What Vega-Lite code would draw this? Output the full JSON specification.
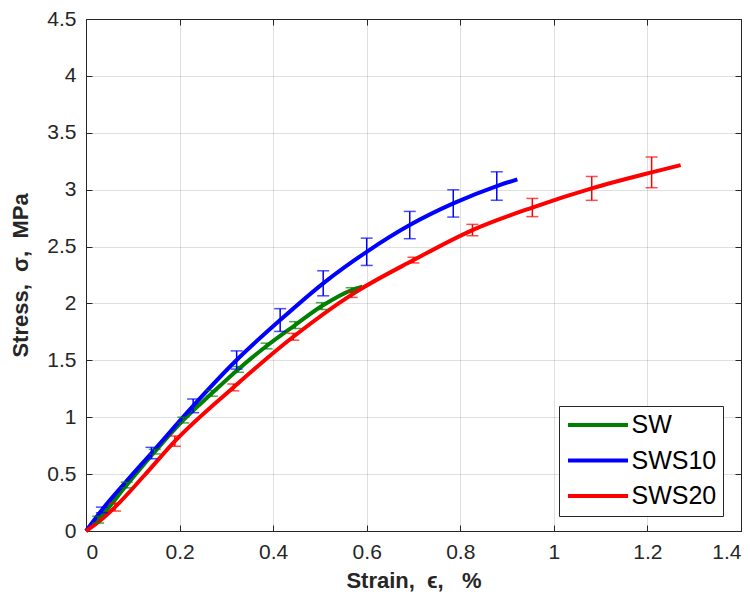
{
  "$schema": "https://vega.github.io/schema/vega-lite/v6.json",
  "width": 655,
  "height": 512,
  "autosize": {"type": "none"},
  "padding": {"left": 86, "top": 19, "right": 9, "bottom": 73},
  "background": "white",
  "datasets": {
    "curves": [
      {"series": "SW", "strain": 0, "stress": 0},
      {"series": "SW", "strain": 0.026, "stress": 0.1},
      {"series": "SW", "strain": 0.087, "stress": 0.404},
      {"series": "SW", "strain": 0.147, "stress": 0.697},
      {"series": "SW", "strain": 0.208, "stress": 0.975},
      {"series": "SW", "strain": 0.269, "stress": 1.21},
      {"series": "SW", "strain": 0.325, "stress": 1.42},
      {"series": "SW", "strain": 0.386, "stress": 1.626},
      {"series": "SW", "strain": 0.447, "stress": 1.81},
      {"series": "SW", "strain": 0.504, "stress": 1.977},
      {"series": "SW", "strain": 0.568, "stress": 2.118},
      {"series": "SW", "strain": 0.591, "stress": 2.147},
      {"series": "SWS10", "strain": 0, "stress": 0},
      {"series": "SWS10", "strain": 0.034, "stress": 0.185},
      {"series": "SWS10", "strain": 0.085, "stress": 0.43},
      {"series": "SWS10", "strain": 0.140, "stress": 0.685},
      {"series": "SWS10", "strain": 0.229, "stress": 1.1},
      {"series": "SWS10", "strain": 0.322, "stress": 1.503},
      {"series": "SWS10", "strain": 0.415, "stress": 1.854},
      {"series": "SWS10", "strain": 0.507, "stress": 2.177},
      {"series": "SWS10", "strain": 0.600, "stress": 2.454},
      {"series": "SWS10", "strain": 0.692, "stress": 2.689},
      {"series": "SWS10", "strain": 0.785, "stress": 2.879},
      {"series": "SWS10", "strain": 0.878, "stress": 3.032},
      {"series": "SWS10", "strain": 0.922, "stress": 3.091},
      {"series": "SWS20", "strain": 0, "stress": 0},
      {"series": "SWS20", "strain": 0.03, "stress": 0.09},
      {"series": "SWS20", "strain": 0.062, "stress": 0.21},
      {"series": "SWS20", "strain": 0.125, "stress": 0.49},
      {"series": "SWS20", "strain": 0.190, "stress": 0.79},
      {"series": "SWS20", "strain": 0.315, "stress": 1.262},
      {"series": "SWS20", "strain": 0.443, "stress": 1.707},
      {"series": "SWS20", "strain": 0.568, "stress": 2.078},
      {"series": "SWS20", "strain": 0.700, "stress": 2.381},
      {"series": "SWS20", "strain": 0.826, "stress": 2.645},
      {"series": "SWS20", "strain": 0.954, "stress": 2.843},
      {"series": "SWS20", "strain": 1.081, "stress": 3.011},
      {"series": "SWS20", "strain": 1.209, "stress": 3.152},
      {"series": "SWS20", "strain": 1.271, "stress": 3.216}
    ],
    "errs": [
      {"series": "SW", "strain": 0.026, "lo": 0.07, "hi": 0.13},
      {"series": "SW", "strain": 0.087, "lo": 0.379, "hi": 0.429},
      {"series": "SW", "strain": 0.147, "lo": 0.677, "hi": 0.717},
      {"series": "SW", "strain": 0.208, "lo": 0.95, "hi": 1.0},
      {"series": "SW", "strain": 0.269, "lo": 1.185, "hi": 1.235},
      {"series": "SW", "strain": 0.325, "lo": 1.395, "hi": 1.445},
      {"series": "SW", "strain": 0.386, "lo": 1.601, "hi": 1.651},
      {"series": "SW", "strain": 0.447, "lo": 1.78, "hi": 1.84},
      {"series": "SW", "strain": 0.504, "lo": 1.947, "hi": 2.007},
      {"series": "SW", "strain": 0.568, "lo": 2.098, "hi": 2.138},
      {"series": "SWS10", "strain": 0.034, "lo": 0.16, "hi": 0.21},
      {"series": "SWS10", "strain": 0.140, "lo": 0.635, "hi": 0.735},
      {"series": "SWS10", "strain": 0.229, "lo": 1.04, "hi": 1.16},
      {"series": "SWS10", "strain": 0.322, "lo": 1.423, "hi": 1.583},
      {"series": "SWS10", "strain": 0.415, "lo": 1.754, "hi": 1.954},
      {"series": "SWS10", "strain": 0.507, "lo": 2.067, "hi": 2.287},
      {"series": "SWS10", "strain": 0.600, "lo": 2.334, "hi": 2.574},
      {"series": "SWS10", "strain": 0.692, "lo": 2.569, "hi": 2.809},
      {"series": "SWS10", "strain": 0.785, "lo": 2.759, "hi": 2.999},
      {"series": "SWS10", "strain": 0.878, "lo": 2.907, "hi": 3.157},
      {"series": "SWS20", "strain": 0.062, "lo": 0.175, "hi": 0.245},
      {"series": "SWS20", "strain": 0.190, "lo": 0.745, "hi": 0.835},
      {"series": "SWS20", "strain": 0.315, "lo": 1.232, "hi": 1.292},
      {"series": "SWS20", "strain": 0.443, "lo": 1.677, "hi": 1.737},
      {"series": "SWS20", "strain": 0.568, "lo": 2.053, "hi": 2.103},
      {"series": "SWS20", "strain": 0.700, "lo": 2.356, "hi": 2.406},
      {"series": "SWS20", "strain": 0.826, "lo": 2.595, "hi": 2.695},
      {"series": "SWS20", "strain": 0.954, "lo": 2.763, "hi": 2.923},
      {"series": "SWS20", "strain": 1.081, "lo": 2.906, "hi": 3.116},
      {"series": "SWS20", "strain": 1.209, "lo": 3.017, "hi": 3.287}
    ]
  },
  "config": {
    "view": {"stroke": null},
    "font": "Liberation Sans",
    "axis": {
      "domainColor": "#262626",
      "domainWidth": 1,
      "tickColor": "#262626",
      "tickWidth": 1,
      "tickSize": -6,
      "labelColor": "#262626",
      "labelFont": "Liberation Sans",
      "labelFontSize": 21,
      "titleFont": "Liberation Sans",
      "titleFontSize": 22,
      "titleFontWeight": "bold",
      "titleColor": "#262626",
      "gridColor": "#262626",
      "gridOpacity": 0.15,
      "gridWidth": 1
    }
  },
  "layer": [
    {
      "data": {"name": "curves"},
      "mark": {"type": "line", "strokeWidth": 4, "interpolate": "monotone"},
      "encoding": {
        "x": {"field": "strain", "type": "quantitative",
          "scale": {"domain": [0, 1.4], "nice": false, "zero": false},
          "axis": {"orient": "bottom", "values": [0, 0.2, 0.4, 0.6, 0.8, 1, 1.2, 1.4], "format": "~g", "grid": true, "labelPadding": 16, "title": "Strain,\u00a0\u00a0ϵ,\u00a0\u00a0\u00a0%", "titlePadding": 8}},
        "y": {"field": "stress", "type": "quantitative",
          "scale": {"domain": [0, 4.5], "nice": false, "zero": false},
          "axis": {"orient": "left", "values": [0, 0.5, 1, 1.5, 2, 2.5, 3, 3.5, 4, 4.5], "format": "~g", "grid": true, "labelPadding": 16, "title": "Stress,\u00a0\u00a0σ,\u00a0\u00a0MPa", "titlePadding": 14}},
        "color": {"field": "series", "type": "nominal",
          "scale": {"domain": ["SW", "SWS10", "SWS20"], "range": ["#008000", "#0000ff", "#ff0000"]},
          "legend": {
            "title": null, "orient": "none", "legendX": 473, "legendY": 387, "direction": "vertical",
            "symbolType": "M-3,0H3", "symbolSize": 400, "symbolStrokeWidth": 4, "symbolOpacity": 1, "symbolOffset": 20,
            "labelFontSize": 25, "labelFont": "Liberation Sans", "labelColor": "#000000", "labelOffset": 21,
            "strokeColor": "#262626", "fillColor": "white", "padding": 6.5, "rowPadding": 9.5,
            "encode": {"symbols": {"update": {"opacity": {"value": 1}, "strokeOpacity": {"value": 1}}}}
          }
        }
      }
    },
    {
      "data": {"name": "errs"},
      "mark": {"type": "errorbar", "ticks": {"size": 12}, "thickness": 1.5},
      "encoding": {
        "x": {"field": "strain", "type": "quantitative",
          "axis": {"orient": "top", "values": [0, 0.2, 0.4, 0.6, 0.8, 1, 1.2, 1.4], "labels": false, "grid": false, "title": null}},
        "y": {"field": "lo", "type": "quantitative",
          "axis": {"orient": "right", "values": [0, 0.5, 1, 1.5, 2, 2.5, 3, 3.5, 4, 4.5], "labels": false, "grid": false, "title": null}},
        "y2": {"field": "hi"},
        "color": {"field": "series", "type": "nominal"}
      }
    }
  ],
  "resolve": {"axis": {"x": "independent", "y": "independent"}}
}
